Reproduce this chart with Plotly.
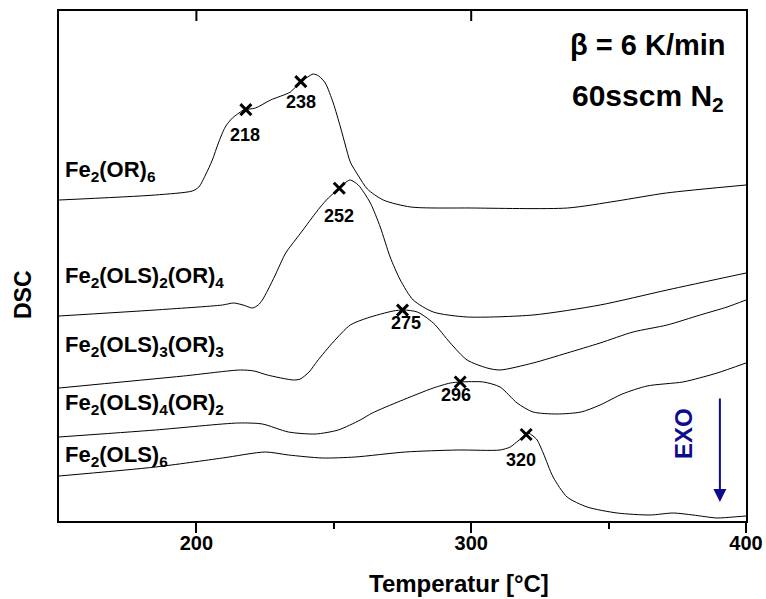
import numpy as np
import plotly.graph_objects as go

# DSC traces (temperature in °C, heat-flow signal in arbitrary units, curves offset)
t_or6 = [150, 185, 198.5, 200.9, 203.3, 205.8, 208, 210.5, 213.1, 216, 217.1, 221.5, 227,
         234.2, 237.8, 240.5, 242.5, 244.5, 246.9, 249.8, 252.4, 254.2, 256, 259, 262.2,
         268, 278, 300, 335, 353, 371, 400]
dsc_or6 = [321, 326, 330, 334, 346, 361, 378, 394, 403, 409, 411, 413, 421,
           429, 439, 444, 447, 445, 438, 418, 394, 376, 359, 345, 332,
           321, 314, 313, 313, 320, 328, 336]

t_ols2 = [150, 185, 209.5, 213.5, 217, 220.4, 222.5, 224, 226, 228.7, 232.5, 236, 238.5,
          242, 245.1, 248, 251.3, 254.5, 256, 258.9, 263.3, 266.9, 270.5, 274.2, 278.9,
          286.2, 298.5, 322.5, 346.9, 371.3, 400]
dsc_ols2 = [205, 211, 216, 218, 216, 213, 216, 221, 231, 246, 268, 281, 290,
            303, 314, 323, 331, 339, 341, 336, 318, 294, 264, 241, 221,
            209, 204, 206, 216, 231, 248]

t_ols3 = [150, 195.3, 216, 221, 225.8, 235.3, 237.8, 241, 244, 249.8, 256, 262.2, 271.6,
          275.3, 280.4, 286.2, 292.4, 298.5, 305.8, 310.5, 322.5, 334.9, 346.9, 358.9,
          371.3, 383.3, 393.1, 400]
dsc_ols3 = [133, 145, 151, 150, 146, 141, 142, 149, 160, 179, 196, 203, 210,
            211, 209, 198, 178, 161, 153, 151, 158, 168, 178, 189,
            196, 206, 214, 221]

t_ols4 = [150, 185.1, 215.3, 224, 233.5, 243.3, 251.6, 259.6, 264, 274.2, 286.2, 292.4,
          296, 304.4, 310.5, 316.7, 322.5, 331.3, 340, 346.9, 355, 364, 377, 383,
          389.5, 400]
dsc_ols4 = [84, 91, 98, 97, 89, 87, 91, 101, 108, 120, 133, 138,
            139, 139, 134, 118, 109, 107, 109, 116, 127, 135, 139, 143,
            148, 158]

t_ols6 = [150, 185.1, 209.5, 225.1, 233.5, 245.8, 257.8, 276, 295, 310.5, 314.2, 317,
          318.9, 320.7, 322.5, 324, 326.2, 329.8, 334.9, 342.2, 353.1, 365.1, 373.5,
          380.7, 389.5, 395.3, 400]
dsc_ols6 = [45, 54, 63, 69, 66, 63, 64, 69, 71, 71, 74, 80,
            84, 88, 85, 81, 68, 44, 24, 14, 8, 6, 8,
            6, 3, 4, 5]

series_names = ["Fe<sub>2</sub>(OR)<sub>6</sub>",
                "Fe<sub>2</sub>(OLS)<sub>2</sub>(OR)<sub>4</sub>",
                "Fe<sub>2</sub>(OLS)<sub>3</sub>(OR)<sub>3</sub>",
                "Fe<sub>2</sub>(OLS)<sub>4</sub>(OR)<sub>2</sub>",
                "Fe<sub>2</sub>(OLS)<sub>6</sub>"]
series_t = [t_or6, t_ols2, t_ols3, t_ols4, t_ols6]
series_dsc = [dsc_or6, dsc_ols2, dsc_ols3, dsc_ols4, dsc_ols6]
name_y = [350, 244, 175, 117, 65]

# characteristic peak temperatures (°C) and the curve each belongs to
peak_temps = [218, 238, 252, 275, 296, 320]
peak_curve = [0, 0, 1, 2, 3, 4]
peak_label_dx = [-1, 0, 0, 3, -4, -5]
peak_label_dy = [25, 20, 28, 13, 13, 25]

# major ticks repeated inside along the top frame
top_ticks = [200, 300]

FONT = "Liberation Sans"
NAVY = "#0c0c8c"
PLOT_H = 510  # plot area height in px (599 - top 11 - bottom 78)

fig = go.Figure()

for t, d in zip(series_t, series_dsc):
    fig.add_trace(go.Scatter(x=t, y=d, mode="lines",
                             line=dict(color="black", width=1, shape="spline", smoothing=0.7),
                             showlegend=False, hoverinfo="skip"))

peak_y = [float(np.interp(tp, series_t[c], series_dsc[c])) for tp, c in zip(peak_temps, peak_curve)]
fig.add_trace(go.Scatter(x=peak_temps, y=peak_y, mode="markers",
                         marker=dict(symbol="x-thin", size=11, line=dict(width=3, color="black")),
                         showlegend=False, hoverinfo="skip"))

annotations = []
for tp, yp, dx, dy in zip(peak_temps, peak_y, peak_label_dx, peak_label_dy):
    annotations.append(dict(x=tp, y=yp, xref="x", yref="y", text=str(tp), showarrow=False,
                            xshift=dx, yshift=-dy, xanchor="center", yanchor="middle",
                            font=dict(family=FONT, size=18, weight="bold", color="black")))

for name, yv in zip(series_names, name_y):
    annotations.append(dict(x=151.5, y=yv, xref="x", yref="y", text=name, showarrow=False,
                            xanchor="left", yanchor="middle",
                            font=dict(family=FONT, size=22, weight="bold", color="black")))

annotations += [
    dict(x=393.5, y=476, xref="x", yref="y", text="β = 6 K/min", showarrow=False,
         xanchor="right", yanchor="middle",
         font=dict(family=FONT, size=29, weight="bold", color="black")),
    dict(x=392.9, y=424, xref="x", yref="y", text="60sscm N<sub>2</sub>", showarrow=False,
         xanchor="right", yanchor="middle",
         font=dict(family=FONT, size=30, weight="bold", color="black")),
    dict(x=0.582, y=-0.122, xref="paper", yref="paper", text="Temperatur [°C]", showarrow=False,
         xanchor="center", yanchor="middle",
         font=dict(family=FONT, size=24, weight="bold", color="black")),
    dict(x=-0.0524, y=0.443, xref="paper", yref="paper", text="DSC", showarrow=False,
         textangle=-90, xanchor="center", yanchor="middle",
         font=dict(family=FONT, size=23, weight="bold", color="black")),
    dict(x=377.1, y=87, xref="x", yref="y", text="EXO", showarrow=False,
         textangle=-90, xanchor="center", yanchor="middle",
         font=dict(family=FONT, size=24, weight="bold", color=NAVY)),
    dict(x=390.5, y=19, xref="x", yref="y", text="", showarrow=True,
         ax=0, ay=-105, arrowhead=2, arrowsize=1.3, arrowwidth=2, arrowcolor=NAVY, standoff=0),
]

# inward tick marks on the top frame, 10 px long
shapes = [dict(type="line", xref="x", yref="paper", x0=tv, x1=tv, y0=1, y1=1 - 10 / PLOT_H,
               line=dict(color="black", width=2)) for tv in top_ticks]

fig.update_layout(
    width=766, height=599, autosize=False,
    margin=dict(l=59, r=20, t=11, b=78, pad=0, autoexpand=False),
    paper_bgcolor="white", plot_bgcolor="white",
    showlegend=False,
    annotations=annotations,
    shapes=shapes,
    xaxis=dict(range=[150, 400], tickvals=[200, 300, 400], ticks="outside", ticklen=10,
               tickwidth=2, tickcolor="black", showline=True, linewidth=2, linecolor="black",
               mirror=True, showgrid=False, zeroline=False, automargin=False,
               ticklabelstandoff=-7,
               tickfont=dict(family=FONT, size=20, weight="bold", color="black"),
               minor=dict(tickvals=[250, 350], ticks="outside", ticklen=6, tickwidth=2,
                          tickcolor="black", showgrid=False)),
    yaxis=dict(range=[0, PLOT_H], showticklabels=False, ticks="", showline=True, linewidth=2,
               linecolor="black", mirror=True, showgrid=False, zeroline=False, automargin=False),
)

fig.write_html("out.html")
